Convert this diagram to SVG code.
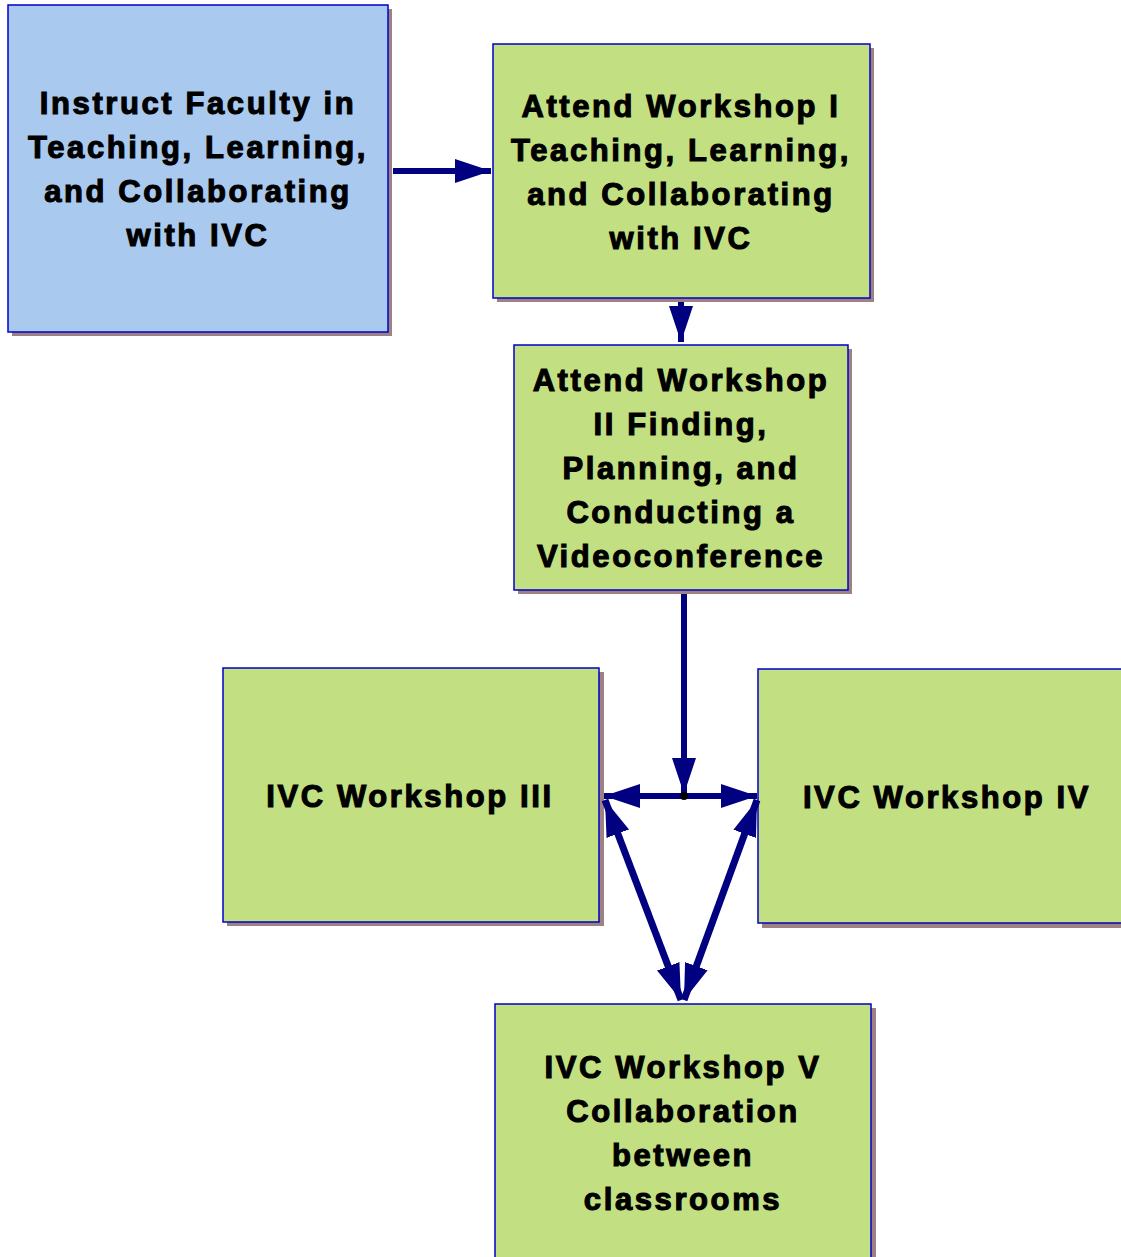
<svg xmlns="http://www.w3.org/2000/svg" width="1121" height="1257" viewBox="0 0 1121 1257">
<style>
.sh{fill:#9E8282}
.g{fill:#C2DF82;stroke:#0000CC;stroke-width:1.5}
.b{fill:#A9C9EE;stroke:#0000CC;stroke-width:1.5}
text{font-family:"Liberation Sans",Arial,sans-serif;font-weight:bold;font-size:31px;letter-spacing:2.6px;text-anchor:middle;fill:#000;stroke:#000;stroke-width:1.1}
.c{stroke:#000080;stroke-width:6;fill:none}
.d{stroke:#000080;stroke-width:7;fill:none}
</style>
<defs>
<marker id="ah" viewBox="0 0 12 8" refX="12" refY="4" markerWidth="6" markerHeight="4" orient="auto-start-reverse" markerUnits="userSpaceOnUse" style="overflow:visible">
<path d="M0,0 L12,4 L0,8 z" fill="#000080"/>
</marker>
<marker id="a2" viewBox="0 0 36 24" refX="36" refY="12" markerWidth="36" markerHeight="24" orient="auto-start-reverse" markerUnits="userSpaceOnUse">
<path d="M0,0 L36,12 L0,24 z" fill="#000080"/>
</marker>
</defs>
<g id="n1">
<rect class="sh" x="12" y="9" width="380" height="327"/>
<rect class="b" x="8" y="5" width="380" height="327"/>
<text x="198" y="114">Instruct Faculty in</text>
<text x="198" y="158">Teaching, Learning,</text>
<text x="198" y="202">and Collaborating</text>
<text x="198" y="246">with IVC</text>
</g>
<g id="n2">
<rect class="sh" x="497" y="48" width="377" height="254"/>
<rect class="g" x="493" y="44" width="377" height="254"/>
<text x="681" y="117">Attend Workshop I</text>
<text x="681" y="161">Teaching, Learning,</text>
<text x="681" y="205">and Collaborating</text>
<text x="681" y="249">with IVC</text>
</g>
<g id="n3">
<rect class="sh" x="518" y="349" width="334" height="245"/>
<rect class="g" x="514" y="345" width="334" height="245"/>
<text x="681" y="391">Attend Workshop</text>
<text x="681" y="435">II Finding,</text>
<text x="681" y="479">Planning, and</text>
<text x="681" y="523">Conducting a</text>
<text x="681" y="567">Videoconference</text>
</g>
<g id="n4">
<rect class="sh" x="227" y="672" width="377" height="254"/>
<rect class="g" x="223" y="668" width="376" height="254"/>
<text x="410" y="807">IVC Workshop III</text>
</g>
<g id="n5">
<rect class="sh" x="762" y="673" width="370" height="255"/>
<rect class="g" x="758" y="669" width="370" height="254"/>
<text x="947" y="808">IVC Workshop IV</text>
</g>
<g id="n6">
<rect class="sh" x="499" y="1008" width="377" height="260"/>
<rect class="g" x="495" y="1004" width="376" height="260"/>
<text x="683" y="1078">IVC Workshop V</text>
<text x="683" y="1122">Collaboration</text>
<text x="683" y="1166">between</text>
<text x="683" y="1210">classrooms</text>
</g>
<g id="connectors">
<line class="c" x1="393" y1="171" x2="491" y2="171" marker-end="url(#a2)"/>
<line class="c" x1="681" y1="302" x2="681" y2="342" marker-end="url(#a2)"/>
<line class="c" x1="684" y1="594" x2="684" y2="794" marker-end="url(#a2)"/>
<line class="c" x1="684" y1="796" x2="604" y2="796" marker-end="url(#a2)"/>
<line class="c" x1="684" y1="796" x2="757" y2="796" marker-end="url(#a2)"/>
<line class="d" x1="605" y1="800" x2="681" y2="1000" marker-start="url(#a2)" marker-end="url(#a2)"/>
<line class="d" x1="757" y1="800" x2="684" y2="1000" marker-start="url(#a2)" marker-end="url(#a2)"/>
<circle cx="684" cy="796" r="4" fill="#000"/>
</g>
</svg>
